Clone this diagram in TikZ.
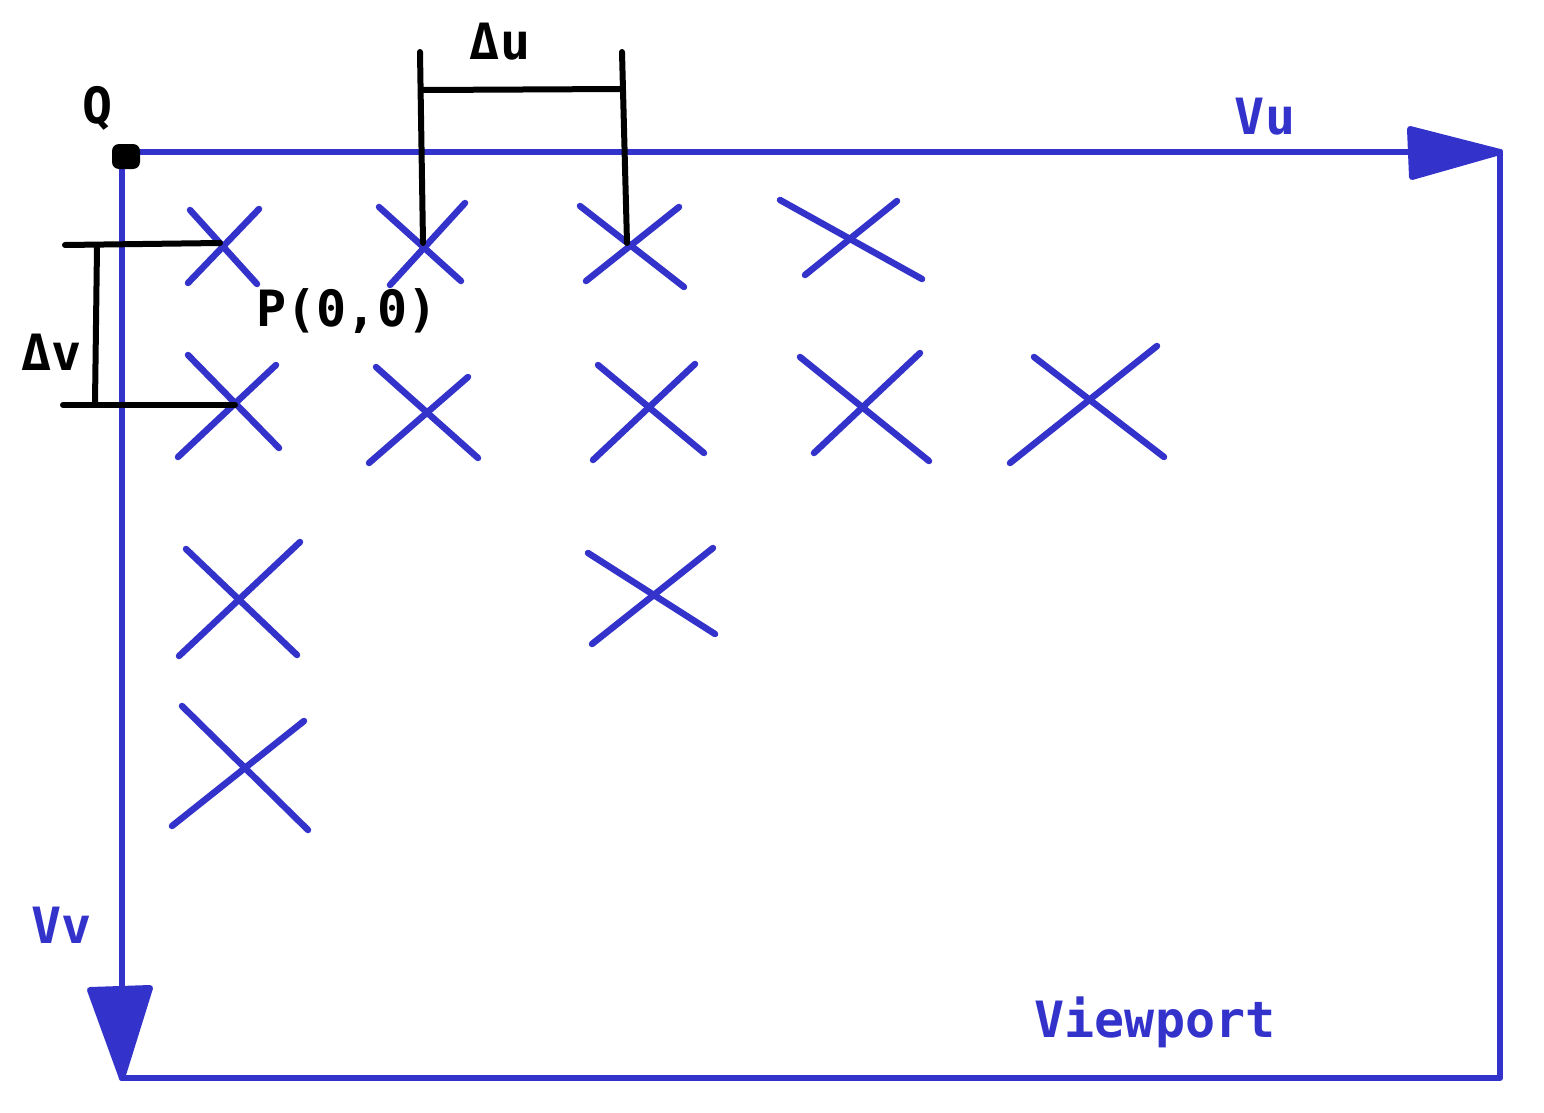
\documentclass[tikz,border=0pt]{standalone}
\usepackage{fontspec}
\setmonofont{DejaVu Sans Mono}
\begin{document}
\begin{tikzpicture}[x=1pt,y=-1pt,
  blu/.style={draw=vblue,line width=6.5pt,line cap=round,line join=round},
  blk/.style={draw=black,line width=6pt,line cap=round},
  lbl/.style={font=\ttfamily\bfseries\fontsize{50}{50}\selectfont,inner sep=0pt},
  ]
\definecolor{vblue}{RGB}{51,51,204}
\useasboundingbox (0,0) rectangle (1544,1113);
% frame corners
\coordinate (Q) at (122,152);
\coordinate (TR) at (1500,152);
\coordinate (BR) at (1500,1078);
\coordinate (BL) at (122,1078);
\draw[blu] (Q) -- (1420,152);
\draw[blu] (TR) -- (BR) -- (BL);
\draw[blu] (Q) -- (122,1000);
\fill[vblue,draw=vblue,line width=6pt,line join=round] (1410,129) -- (TR) -- (1412,177) -- cycle;
\fill[vblue,draw=vblue,line width=6pt,line join=round] (90,990) -- (150,988) -- (BL) -- cycle;
\fill[black,rounded corners=7pt] (112,144) rectangle (140,169);
% crosses
\foreach \a/\b/\c/\d/\e/\f/\g/\h in {
 190/210/257/284/188/283/259/209,
 379/207/461/281/390/285/465/203,
 580/206/684/287/586/281/679/207,
 780/200/922/279/805/275/897/201,
 188/355/279/448/178/457/276/365,
 376/367/478/458/369/463/468/377,
 598/365/704/453/593/460/695/364,
 800/357/929/461/814/453/920/353,
 1034/357/1164/457/1010/463/1157/346,
 186/549/297/655/179/656/300/542,
 588/553/715/634/592/644/713/548,
 182/706/308/830/172/826/304/721}{
 \draw[blu] (\a,\b) -- (\c,\d);
 \draw[blu] (\e,\f) -- (\g,\h);
}
% dimension lines
\coordinate (du1a) at (420,52); \coordinate (du1b) at (423,243);
\coordinate (du2a) at (622,52); \coordinate (du2b) at (627,243);
\draw[blk] (du1a) -- (du1b);
\draw[blk] (du2a) -- (du2b);
\draw[blk] (424,90) -- (622,89);
\draw[blk] (65,245) -- (220,243);
\draw[blk] (63,405) -- (235,405);
\draw[blk] (97,247) -- (95,403);
% labels
\node[lbl] (lQ) at (98,108) {Q};
\node[lbl,text=vblue] (lVu) at (1265,117) {Vu};
\node[lbl,text=vblue] (lVv) at (62,925) {Vv};
\node[lbl,text=vblue] (lVp) at (1155,1022) {Viewport};
\node[lbl] (lP) at (347,311) {P(0,0)};
\node[lbl] (ldu) at (500,42) {Δu};
\node[lbl] (ldv) at (52,352) {Δv};
\end{tikzpicture}
\end{document}
